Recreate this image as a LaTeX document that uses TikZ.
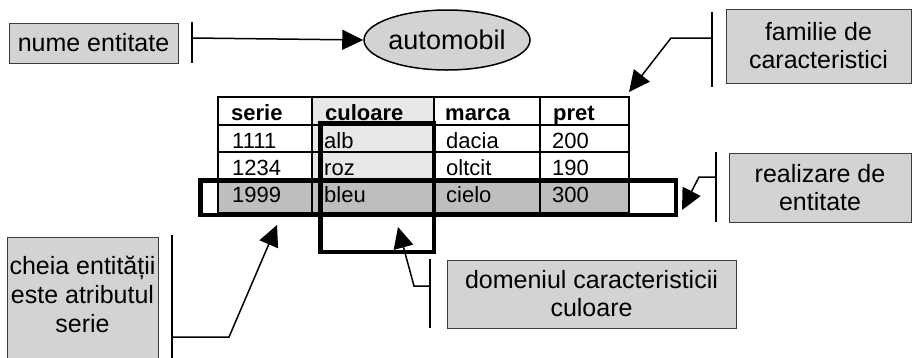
\documentclass[tikz,border=0pt]{standalone}
\usepackage{fontspec}
\setmainfont{Liberation Sans}
\usetikzlibrary{shapes.geometric,arrows.meta}
\definecolor{boxgray}{RGB}{211,211,213}
\definecolor{collight}{RGB}{232,232,234}
\definecolor{rowgray}{RGB}{190,190,192}
\definecolor{boxedge}{RGB}{60,60,60}

\begin{document}
\begin{tikzpicture}[x=1pt,y=-1pt,
  label box/.style={draw=boxedge, line width=1pt, fill=boxgray, align=center,
    font=\fontsize{25}{28}\selectfont, inner sep=0pt},
  label text/.style={align=center, inner sep=0pt, font=\fontsize{25}{29}\selectfont},
  bracket/.style={line width=1.5pt},
  pointer/.style={line width=1.5pt, -{Triangle[length=21pt,width=20pt]}},
  cell/.style={anchor=base west, inner sep=0pt, font=\fontsize{22}{25}\selectfont},
  head/.style={cell, font=\fontsize{22}{25}\selectfont\bfseries},
  grid line/.style={line width=1.3pt},
  heavy frame/.style={line width=4.5pt}
]
\useasboundingbox (0,0) rectangle (912,357);

% ---------- table ----------
\fill[collight] (312,97) rectangle (434,180);
\fill[rowgray] (218,180) rectangle (629,213);
\draw[grid line] (218,97) rectangle (629,213);
\foreach \y in {125,152,180} \draw[grid line] (218,\y) -- (629,\y);
\foreach \x in {312,434,540} \draw[grid line] (\x,97) -- (\x,213);

\node[head] (hserie)   at (231,120) {serie};
\node[head] (hculoare) at (325,120) {culoare};
\node[head] (hmarca)   at (445,120) {marca};
\node[head] (hpret)    at (553,120) {pret};

\node[cell] (s1) at (232,148) {1111};
\node[cell] (c1) at (324,148) {alb};
\node[cell] (m1) at (446,148) {dacia};
\node[cell] (p1) at (552,148) {200};

\node[cell] (s2) at (232,175) {1234};
\node[cell] (c2) at (324,175) {roz};
\node[cell] (m2) at (446,175) {oltcit};
\node[cell] (p2) at (552,175) {190};

\node[cell] (s3) at (232,202) {1999};
\node[cell] (c3) at (324,202) {bleu};
\node[cell] (m3) at (446,202) {cielo};
\node[cell] (p3) at (552,202) {300};

% entity occurrence frame and attribute domain frame
\draw[heavy frame] (200.5,180.5) rectangle (676,215);
\draw[heavy frame] (320.5,123) rectangle (434,252);

% ---------- labels ----------
\node[label box, minimum width=169pt, minimum height=40pt] (nume) at (93.5,43) {nume entitate};
\node[ellipse, draw, line width=1.5pt, fill=boxgray, minimum width=166pt, minimum height=60pt,
  inner sep=0pt, font=\fontsize{27}{30}\selectfont] (auto) at (447,40) {automobil};

\node[label box, minimum width=185pt, minimum height=74pt] (familie) at (818.5,46) {familie de\\caracteristici};
\node[label box, minimum width=182pt, minimum height=69pt] (realiz) at (820,187.5) {realizare de\\entitate};
\node[label box, minimum width=289pt, minimum height=68pt] (domeniu) at (591.5,294) {domeniul caracteristicii\\culoare};
\node[label box, minimum width=151pt, minimum height=133pt, anchor=north] (cheia) at (82.5,237) {};
\node[label text] (cheiatxt) at (82.5,294) {cheia entității\\este atributul\\serie};

% ---------- brackets and pointers ----------
\coordinate (nbT) at (192,22);  \coordinate (nbB) at (192,63);  \coordinate (nbM) at (192,38);
\draw[bracket] (nbT) -- (nbB);
\draw[pointer] (nbM) -- (auto.west);

\coordinate (fbT) at (712,12);  \coordinate (fbB) at (712,87);  \coordinate (fbM) at (712,38);
\coordinate (fbK) at (671,38);  \coordinate (fTip) at (629,92);
\draw[bracket] (fbT) -- (fbB);
\draw[pointer] (fbM) -- (fbK) -- (fTip);

\coordinate (rbT) at (716,152); \coordinate (rbB) at (716,222); \coordinate (rbM) at (716,177);
\coordinate (rbK) at (699,177); \coordinate (rTip) at (682,210);
\draw[bracket] (rbT) -- (rbB);
\draw[pointer] (rbM) -- (rbK) -- (rTip);

\coordinate (cbT) at (172,235); \coordinate (cbB) at (172,360); \coordinate (cbM) at (172,337);
\coordinate (cbK) at (229,337); \coordinate (cTip) at (277,225);
\draw[bracket] (cbT) -- (cbB);
\draw[pointer] (cbM) -- (cbK) -- (cTip);

\coordinate (dbT) at (430,259); \coordinate (dbB) at (430,328); \coordinate (dbM) at (430,286);
\coordinate (dbK) at (414,286); \coordinate (dTip) at (398,227);
\draw[bracket] (dbT) -- (dbB);
\draw[pointer] (dbM) -- (dbK) -- (dTip);
\end{tikzpicture}
\end{document}
